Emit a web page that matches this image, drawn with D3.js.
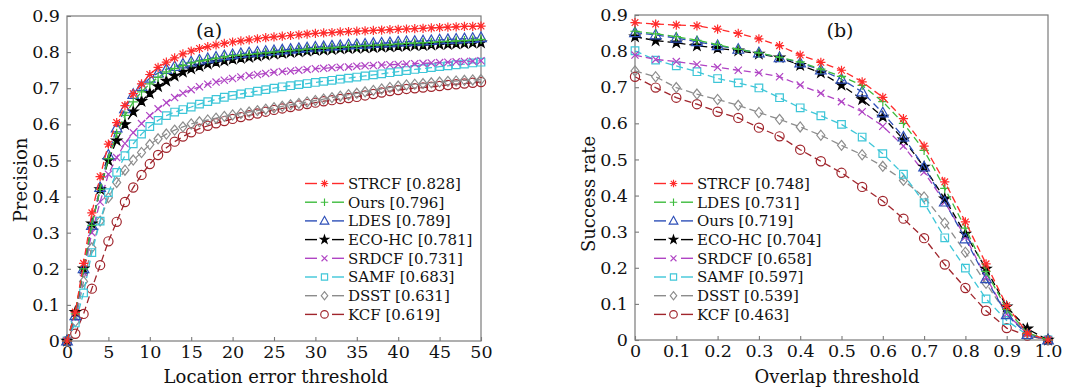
<!DOCTYPE html>
<html><head><meta charset="utf-8">
<script src="https://cdn.jsdelivr.net/npm/d3@7"></script>
<style>body{margin:0;background:#fff}svg{display:block}text{font-family:"DejaVu Serif",serif;fill:#111}</style>
</head><body>
<svg id="c" width="1065" height="389"></svg>
<script>
// ---------- Data: (a) precision vs location error threshold ----------
const thresholdsA = [0,1,2,3,4,5,6,7,8,9,10,11,12,13,14,15,16,17,18,19,20,21,22,23,24,25,26,27,28,29,30,31,32,33,34,35,36,37,38,39,40,41,42,43,44,45,46,47,48,49,50];
const namesA = ["STRCF [0.828]","Ours [0.796]","LDES [0.789]","ECO-HC [0.781]","SRDCF [0.731]","SAMF [0.683]","DSST [0.631]","KCF [0.619]"];
const strcfA = [0,0.08,0.215,0.355,0.455,0.545,0.605,0.652,0.685,0.712,0.738,0.758,0.772,0.784,0.795,0.803,0.810,0.815,0.820,0.824,0.828,0.831,0.834,0.837,0.840,0.842,0.844,0.846,0.848,0.850,0.852,0.853,0.854,0.856,0.857,0.858,0.859,0.860,0.861,0.862,0.863,0.864,0.865,0.866,0.867,0.868,0.869,0.870,0.871,0.871,0.872];
const oursA = [0,0.075,0.2,0.32,0.42,0.505,0.575,0.625,0.662,0.69,0.712,0.73,0.745,0.755,0.763,0.77,0.775,0.779,0.783,0.787,0.79,0.792,0.794,0.796,0.798,0.80,0.802,0.804,0.806,0.808,0.81,0.811,0.812,0.814,0.815,0.816,0.818,0.819,0.82,0.821,0.823,0.824,0.825,0.826,0.827,0.829,0.83,0.831,0.832,0.833,0.835];
const ldesA = [0,0.07,0.2,0.32,0.425,0.515,0.59,0.643,0.683,0.705,0.728,0.742,0.752,0.76,0.767,0.773,0.778,0.782,0.786,0.79,0.793,0.796,0.798,0.80,0.802,0.804,0.806,0.808,0.81,0.812,0.814,0.815,0.817,0.818,0.82,0.821,0.822,0.824,0.825,0.826,0.828,0.829,0.83,0.831,0.832,0.834,0.835,0.836,0.837,0.838,0.84];
const ecoA = [0,0.08,0.2,0.325,0.42,0.5,0.555,0.6,0.635,0.664,0.686,0.705,0.72,0.734,0.745,0.754,0.761,0.767,0.772,0.776,0.78,0.783,0.786,0.789,0.792,0.795,0.797,0.799,0.801,0.803,0.805,0.806,0.807,0.809,0.81,0.811,0.812,0.813,0.814,0.815,0.816,0.817,0.818,0.819,0.82,0.821,0.822,0.823,0.824,0.825,0.826];
const srdcfA = [0,0.065,0.19,0.3,0.385,0.462,0.508,0.547,0.577,0.602,0.624,0.643,0.66,0.674,0.686,0.696,0.704,0.711,0.717,0.722,0.727,0.731,0.735,0.738,0.741,0.744,0.746,0.748,0.75,0.752,0.754,0.755,0.757,0.758,0.759,0.761,0.762,0.763,0.764,0.765,0.766,0.767,0.768,0.769,0.77,0.771,0.772,0.773,0.774,0.775,0.776];
const samfA = [0,0.05,0.133,0.245,0.332,0.411,0.467,0.513,0.546,0.573,0.594,0.611,0.624,0.634,0.641,0.648,0.656,0.663,0.669,0.675,0.68,0.684,0.688,0.692,0.696,0.70,0.704,0.707,0.71,0.713,0.716,0.719,0.722,0.725,0.728,0.731,0.734,0.737,0.74,0.743,0.746,0.749,0.752,0.754,0.757,0.76,0.762,0.765,0.767,0.77,0.772];
const dsstA = [0,0.054,0.165,0.258,0.332,0.397,0.439,0.473,0.501,0.522,0.544,0.56,0.573,0.584,0.593,0.601,0.607,0.612,0.617,0.622,0.626,0.63,0.634,0.638,0.642,0.646,0.65,0.654,0.658,0.662,0.666,0.67,0.674,0.678,0.682,0.686,0.69,0.694,0.698,0.702,0.706,0.709,0.711,0.713,0.715,0.717,0.719,0.72,0.722,0.723,0.724];
const kcfA = [0,0.02,0.075,0.145,0.21,0.276,0.33,0.385,0.425,0.46,0.49,0.515,0.535,0.552,0.566,0.578,0.588,0.596,0.603,0.609,0.615,0.62,0.625,0.63,0.635,0.64,0.644,0.648,0.652,0.656,0.66,0.664,0.667,0.67,0.673,0.676,0.68,0.684,0.688,0.692,0.695,0.698,0.7,0.702,0.704,0.706,0.709,0.711,0.713,0.715,0.717];

// ---------- Data: (b) success rate vs overlap threshold ----------
const thresholdsB = [0,0.05,0.1,0.15,0.2,0.25,0.3,0.35,0.4,0.45,0.5,0.55,0.6,0.65,0.7,0.75,0.8,0.85,0.9,0.95,1.0];
const namesB = ["STRCF [0.748]","LDES [0.731]","Ours [0.719]","ECO-HC [0.704]","SRDCF [0.658]","SAMF [0.597]","DSST [0.539]","KCF [0.463]"];
const strcfB = [0.879,0.875,0.872,0.870,0.861,0.849,0.834,0.815,0.789,0.769,0.747,0.715,0.672,0.613,0.537,0.438,0.327,0.211,0.095,0.019,0];
const ldesB = [0.855,0.848,0.840,0.830,0.818,0.805,0.795,0.783,0.770,0.750,0.730,0.705,0.660,0.600,0.525,0.420,0.310,0.190,0.085,0.020,0];
const oursB = [0.851,0.845,0.836,0.826,0.815,0.805,0.795,0.782,0.767,0.748,0.722,0.687,0.629,0.562,0.479,0.382,0.280,0.170,0.070,0.015,0];
const ecoB = [0.840,0.829,0.823,0.815,0.808,0.801,0.792,0.782,0.761,0.740,0.706,0.666,0.618,0.555,0.479,0.391,0.294,0.197,0.092,0.031,0];
const srdcfB = [0.789,0.777,0.771,0.763,0.755,0.747,0.740,0.729,0.706,0.683,0.660,0.632,0.592,0.537,0.465,0.382,0.285,0.174,0.072,0.017,0];
const samfB = [0.801,0.775,0.759,0.743,0.724,0.712,0.698,0.671,0.643,0.621,0.597,0.562,0.516,0.459,0.380,0.283,0.199,0.114,0.054,0.014,0];
const dsstB = [0.745,0.729,0.699,0.681,0.666,0.650,0.630,0.611,0.590,0.567,0.539,0.513,0.481,0.442,0.396,0.324,0.243,0.157,0.072,0.019,0];
const kcfB = [0.729,0.699,0.671,0.653,0.632,0.615,0.588,0.564,0.527,0.495,0.463,0.424,0.385,0.336,0.282,0.209,0.144,0.081,0.033,0.012,0];

const yTicks = [0,0.1,0.2,0.3,0.4,0.5,0.6,0.7,0.8,0.9];
const xTicksA = [0,5,10,15,20,25,30,35,40,45,50];
const xTicksB = [0,0.1,0.2,0.3,0.4,0.5,0.6,0.7,0.8,0.9,1.0];

// ---------- Styles ----------
const colors = ["#ff2b2b","#3dbb3d","#2d4fb8","#000000","#b044c4","#3ec6d8","#8c8c8c","#a0252c"];
const markers = ["asterisk","plus","triangle","star","x","square","diamond","circle"];

function markerPath(t){
  const r=4.6;
  switch(t){
    case "asterisk": {const a=r*0.72;return `M${-r},0L${r},0M0,${-r}L0,${r}M${-a},${-a}L${a},${a}M${-a},${a}L${a},${-a}`;}
    case "plus": return `M${-r},0L${r},0M0,${-r}L0,${r}`;
    case "x": {const a=r*0.78;return `M${-a},${-a}L${a},${a}M${-a},${a}L${a},${-a}`;}
    case "triangle": {const s=5.6;return `M0,${-s}L${s*0.95},${s*0.7}L${-s*0.95},${s*0.7}Z`;}
    case "square": {const s=3.8;return `M${-s},${-s}H${s}V${s}H${-s}Z`;}
    case "diamond": {const s=5;return `M0,${-s}L${s*0.8},0L0,${s}L${-s*0.8},0Z`;}
    case "circle": {const s=4.6;return `M${s},0A${s},${s} 0 1,1 ${-s},0A${s},${s} 0 1,1 ${s},0Z`;}
    case "star": return d3.symbol(d3.symbolStar, 30)();
  }
}
const filled = t => t==="star";

const svg = d3.select("#c");

function panel(cfg){
  const {x0,x1,y0,y1,xDom,xTicks,xFmt,series,names,legendX,label,labelX,xTitle,xTitleX,yTitle,yTitleX,yTitleY} = cfg;
  const x = d3.scaleLinear().domain(xDom).range([x0,x1]);
  const y = d3.scaleLinear().domain([0,0.9]).range([y1,y0]);
  const g = svg.append("g");
  g.append("rect").attr("x",x0).attr("y",y0).attr("width",x1-x0).attr("height",y1-y0)
    .attr("fill","none").attr("stroke","#7a7a7a").attr("stroke-width",1.2);
  const ax = g.append("g").attr("transform",`translate(0,${y1})`)
    .call(d3.axisBottom(x).tickValues(xTicks).tickFormat(xFmt).tickSizeInner(-4).tickSizeOuter(0).tickPadding(5));
  const ay = g.append("g").attr("transform",`translate(${x0},0)`)
    .call(d3.axisLeft(y).tickValues(yTicks).tickFormat(d=>d===0?"0":d3.format(".1f")(d)).tickSizeInner(-4).tickSizeOuter(0).tickPadding(7));
  [ax,ay].forEach(a=>{
    a.select(".domain").remove();
    a.selectAll(".tick line").attr("stroke","#7a7a7a").attr("stroke-width",1.1);
    a.selectAll("text").attr("font-family","DejaVu Serif").attr("font-size",17.5).attr("fill","#111");
  });
  const line = d3.line().x(d=>x(d[0])).y(d=>y(d[1]));
  for(let i=series.length-1;i>=0;i--){
    const s = series[i];
    const pts = s.xs.map((v,k)=>[v,s.ys[k]]);
    g.append("path").attr("d",line(pts)).attr("fill","none").attr("stroke",colors[i])
      .attr("stroke-width",1.3).attr("stroke-dasharray","7,4");
    g.append("g").selectAll("path").data(pts).join("path")
      .attr("transform",d=>`translate(${x(d[0])},${y(d[1])})`)
      .attr("d",markerPath(markers[i]))
      .attr("fill",filled(markers[i])?colors[i]:"none")
      .attr("stroke",colors[i]).attr("stroke-width",1.2);
  }
  const rowY = [183.5,202.2,220.9,239.6,258.3,277,295.7,314.4];
  names.forEach((n,i)=>{
    const ly = rowY[i];
    const lg = g.append("g");
    lg.append("line").attr("x1",legendX).attr("x2",legendX+12).attr("y1",ly).attr("y2",ly).attr("stroke",colors[i]).attr("stroke-width",1.4);
    lg.append("line").attr("x1",legendX+27).attr("x2",legendX+39).attr("y1",ly).attr("y2",ly).attr("stroke",colors[i]).attr("stroke-width",1.4);
    lg.append("path").attr("transform",`translate(${legendX+19.5},${ly}) scale(0.82)`).attr("d",markerPath(markers[i]))
      .attr("fill",filled(markers[i])?colors[i]:"none").attr("stroke",colors[i]).attr("stroke-width",1.4);
    lg.append("text").attr("x",legendX+43).attr("y",ly).attr("dy","0.36em").attr("font-size",15).text(n);
  });
  g.append("text").attr("x",labelX).attr("y",37).attr("text-anchor","middle").attr("font-size",19).text(label);
  g.append("text").attr("x",xTitleX).attr("y",383).attr("text-anchor","middle").attr("font-size",18).text(xTitle);
  g.append("text").attr("transform",`translate(${yTitleX},${yTitleY}) rotate(-90)`).attr("text-anchor","middle").attr("font-size",18).text(yTitle);
}

panel({x0:67,x1:481,y0:16,y1:341,xDom:[0,50],xTicks:xTicksA,xFmt:d=>String(d),
  series:[strcfA,oursA,ldesA,ecoA,srdcfA,samfA,dsstA,kcfA].map(ys=>({xs:thresholdsA,ys})),
  names:namesA,legendX:305,label:"(a)",labelX:209,xTitle:"Location error threshold",xTitleX:276,
  yTitle:"Precision",yTitleX:27,yTitleY:180});

panel({x0:635,x1:1048,y0:15,y1:340,xDom:[0,1],xTicks:xTicksB,xFmt:d=>d===0?"0":d3.format(".1f")(d),
  series:[strcfB,ldesB,oursB,ecoB,srdcfB,samfB,dsstB,kcfB].map(ys=>({xs:thresholdsB,ys})),
  names:namesB,legendX:654,label:"(b)",labelX:840,xTitle:"Overlap threshold",xTitleX:837,
  yTitle:"Success rate",yTitleX:595,yTitleY:194});
</script>
</body></html>
